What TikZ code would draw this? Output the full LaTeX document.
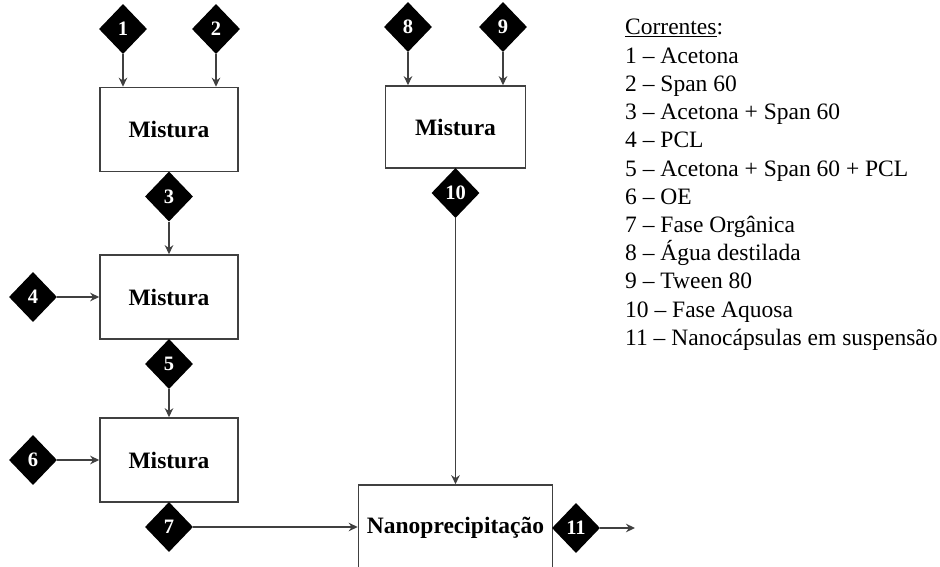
\documentclass[tikz,border=0pt]{standalone}
\usepackage{fontspec}
\setmainfont{Liberation Serif}
\usetikzlibrary{arrows.meta,shapes.geometric}
\definecolor{ln}{HTML}{404040}
\begin{document}
\begin{tikzpicture}[x=1pt,y=-1pt,
  box/.style={draw=ln,line width=1.6pt,minimum width=138pt,minimum height=84pt,inner sep=0pt,font=\fontsize{23.5}{28}\selectfont\bfseries},
  strm/.style={diamond,fill=black,inner sep=0pt,minimum width=48pt,minimum height=50pt,text=white,font=\fontsize{20.5}{22}\selectfont\bfseries},
  flow/.style={draw=ln,line width=1.4pt,-{Stealth[length=9pt,width=8.5pt]}},
  leg/.style={anchor=base west,inner sep=0pt,font=\fontsize{23.5}{28}\selectfont}]
\useasboundingbox (0,0) rectangle (940,567);
\clip (0,0) rectangle (940,567);
% boxes
\node[box] (m1) at (169,129.5) {Mistura};
\node[box] (m2) at (169,297) {Mistura};
\node[box] (m3) at (169,460) {Mistura};
\node[box,minimum width=140pt,minimum height=82pt] (m4) at (455.5,127) {Mistura};
\node[box,minimum width=194pt,minimum height=86pt] (np) at (455.5,528) {Nanoprecipitação};
% streams
\node[strm] (d1) at (123,29) {1};
\node[strm] (d2) at (216,29) {2};
\node[strm] (d3) at (169,196.5) {3};
\node[strm] (d4) at (33,297) {4};
\node[strm] (d5) at (169,364) {5};
\node[strm] (d6) at (33,460) {6};
\node[strm] (d7) at (169,527) {7};
\node[strm] (d8) at (408,27) {8};
\node[strm] (d9) at (503,27) {9};
\node[strm] (d10) at (455.5,193) {10};
\node[strm] (d11) at (576,528) {11};
\coordinate (out) at (635,528);
% connectors
\draw[flow] (d1.south) -- (d1.south |- m1.north);
\draw[flow] (d2.south) -- (d2.south |- m1.north);
\draw[flow] (d3.south) -- (d3.south |- m2.north);
\draw[flow] (d4.east) -- (d4.east -| m2.west);
\draw[flow] (d5.south) -- (d5.south |- m3.north);
\draw[flow] (d6.east) -- (d6.east -| m3.west);
\draw[flow] (d7.east) -- (d7.east -| np.west);
\draw[flow] (d8.south) -- (d8.south |- m4.north);
\draw[flow] (d9.south) -- (d9.south |- m4.north);
\draw[flow] (d10.south) -- (d10.south |- np.north);
\draw[flow] (d11.east) -- (out);
% legend
\node[leg] (l0) at (625,35) {\underline{Correntes}:};
\node[leg] (l1) at (625,63.2) {1 – Acetona};
\node[leg] (l2) at (625,91.4) {2 – Span 60};
\node[leg] (l3) at (625,119.6) {3 – Acetona + Span 60};
\node[leg] (l4) at (625,147.8) {4 – PCL};
\node[leg] (l5) at (625,176) {5 – Acetona + Span 60 + PCL};
\node[leg] (l6) at (625,204.2) {6 – OE};
\node[leg] (l7) at (625,232.4) {7 – Fase Orgânica};
\node[leg] (l8) at (625,260.6) {8 – Água destilada};
\node[leg] (l9) at (625,288.8) {9 – Tween 80};
\node[leg] (l10) at (625,317) {10 – Fase Aquosa};
\node[leg] (l11) at (625,345.2) {11 – Nanocápsulas em suspensão};
\end{tikzpicture}
\end{document}
